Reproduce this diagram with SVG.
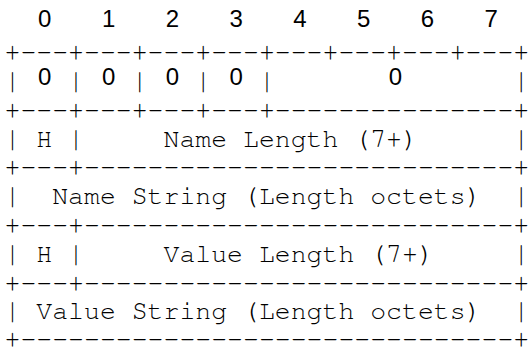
<svg xmlns="http://www.w3.org/2000/svg" width="529" height="351" viewBox="0 0 529 351">
<style>
.m{font-family:"Nimbus Mono PS","Nimbus Mono L","FreeMono","Liberation Mono","Courier New",monospace;font-size:26.5px;fill:#000;white-space:pre}
.d{font-family:"Liberation Sans",Arial,sans-serif;font-size:24px;fill:#000;text-anchor:middle}
</style>
<rect width="529" height="351" fill="#fff"/>
<g id="header">
<text class="d" y="27"><tspan x="44.8">0</tspan><tspan x="108.6">1</tspan><tspan x="172.4">2</tspan><tspan x="236.2">3</tspan><tspan x="299.9">4</tspan><tspan x="363.7">5</tspan><tspan x="427.5">6</tspan><tspan x="491.2">7</tspan></text>
</g>
<g id="frame">
<text class="m" x="4.5" y="60" xml:space="preserve">+---+---+---+---+---+---+---+---+</text>
<text class="m" x="4.5" y="89">|</text>
<text class="m" x="68.1" y="89">|</text>
<text class="m" x="131.7" y="89">|</text>
<text class="m" x="195.3" y="89">|</text>
<text class="m" x="258.9" y="89">|</text>
<text class="m" x="513.3" y="89">|</text>
<text class="m" x="4.5" y="118" xml:space="preserve">+---+---+---+---+---------------+</text>
<text class="m" x="4.5" y="147" xml:space="preserve">| H |     Name Length (7+)      |</text>
<text class="m" x="4.5" y="175" xml:space="preserve">+---+---------------------------+</text>
<text class="m" x="4.5" y="204" xml:space="preserve">|  Name String (Length octets)  |</text>
<text class="m" x="4.5" y="233" xml:space="preserve">+---+---------------------------+</text>
<text class="m" x="4.5" y="262" xml:space="preserve">| H |     Value Length (7+)     |</text>
<text class="m" x="4.5" y="291" xml:space="preserve">+---+---------------------------+</text>
<text class="m" x="4.5" y="319" xml:space="preserve">| Value String (Length octets)  |</text>
<text class="m" x="4.5" y="347" xml:space="preserve">+-------------------------------+</text>
</g>
<g id="row-flags">
<text class="d" y="85"><tspan x="44.8">0</tspan><tspan x="108.6">0</tspan><tspan x="172.4">0</tspan><tspan x="236.2">0</tspan><tspan x="395.5">0</tspan></text>
</g>
</svg>
